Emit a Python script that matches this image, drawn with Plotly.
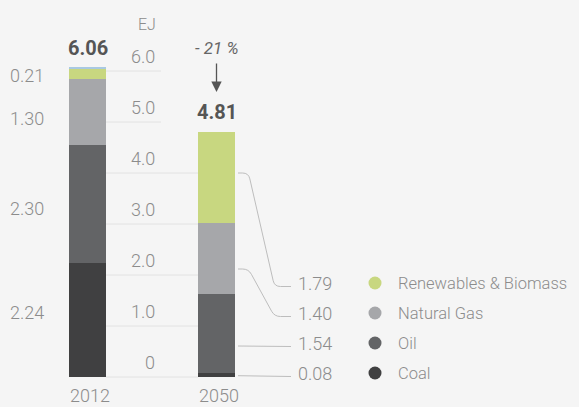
import numpy as np
import plotly.graph_objects as go

# Données (EJ)
years = ["2012", "2050"]
coal = [2.24, 0.08]
oil = [2.30, 1.54]
natural_gas = [1.30, 1.40]
renewables = [0.21, 1.79]
other = [0.01, 0.0]
totals = [6.06, 4.81]
change_label = "- 21 %"
unit_label = "EJ"
y_ticks = [0, 1, 2, 3, 4, 5, 6]
y_tick_labels = ["0", "1.0", "2.0", "3.0", "4.0", "5.0", "6.0"]

series = [
    ("Coal", coal, "#404041"),
    ("Oil", oil, "#636466"),
    ("Natural Gas", natural_gas, "#a6a7aa"),
    ("Renewables & Biomass", renewables, "#c8d780"),
]

# Mise en page (pixels -> unités des axes)
W, H = 579, 407
X0_PX, X_SCALE = 87.5, 129.0
Y0_PX, Y_SCALE = 377.0, 51.0
BAR_W = 37 / X_SCALE

FONT = "Roboto, Liberation Sans, sans-serif"
GREY = "#8c8c8c"
DARK = "#555555"
TXT = 18


def dx(px):
    return (px - X0_PX) / X_SCALE


def dy(py):
    return (Y0_PX - py) / Y_SCALE


xs = [0, 1]
fig = go.Figure()

for name, values, color in series:
    fig.add_trace(go.Bar(x=xs, y=values, name=name, width=BAR_W,
                         marker=dict(color=color, line_width=0),
                         hoverinfo="skip"))
fig.add_trace(go.Bar(x=xs, y=other, width=BAR_W, marker=dict(color="#a9c9e2", line_width=0),
                     hoverinfo="skip"))

shapes = []
annotations = []

# Grille entre les barres
for t, lab in zip(y_ticks, y_tick_labels):
    x_end = dx(198) if t <= 4 else dx(161)
    shapes.append(dict(type="line", xref="x", yref="y", x0=dx(106), x1=x_end, y0=t, y1=t,
                       line=dict(color="#e2e2e2", width=1), layer="below"))
    annotations.append(dict(x=dx(157), y=t, text=lab, xanchor="right", yanchor="middle",
                            yshift=15, showarrow=False,
                            font=dict(family=FONT, size=TXT, color=GREY, weight=300)))
annotations.append(dict(x=dx(158), y=dy(24), text=unit_label, xanchor="right", yanchor="middle",
                        showarrow=False, font=dict(family=FONT, size=16, color=GREY, weight=300)))

# Étiquettes de la barre 2012 (à gauche)
left_label_px = [312, 208, 118, 75]
for (name, values, color), lpx in zip(series, left_label_px):
    annotations.append(dict(x=dx(46), y=dy(lpx), text=f"{values[0]:.2f}", xanchor="right",
                            yanchor="middle", showarrow=False,
                            font=dict(family=FONT, size=TXT, color=GREY, weight=300)))

# Totaux et variation
for x, tot in zip(xs, totals):
    annotations.append(dict(x=x, y=tot, text=f"<b>{tot:.2f}</b>", yanchor="bottom", yshift=6,
                            showarrow=False, font=dict(family=FONT, size=20, color=DARK)))
annotations.append(dict(x=1, y=dy(48), text=f"<i>{change_label}</i>", showarrow=False,
                        font=dict(family=FONT, size=17, color="#666666")))
annotations.append(dict(x=1, y=dy(92), ax=0, ay=-30, text="", showarrow=True,
                        arrowhead=2, arrowsize=1.6, arrowwidth=1.3, arrowcolor=DARK))

# Années
for x, year in zip(xs, years):
    annotations.append(dict(x=x, y=dy(395), text=year, showarrow=False, xshift=2,
                            font=dict(family=FONT, size=TXT, color=GREY, weight=300)))

# Étiquettes 2050 avec traits de rappel et légende
row_px = [373, 343, 313, 283]
leader_from_px = [375.7, 346, 269, 173]
marker_x, marker_y, marker_c = [], [], []


def leader_path(y0, y1):
    p0 = np.array([238.0, y0])
    p3 = np.array([291.0, y1])
    if abs(y0 - y1) < 1:
        pts = [p0, p3]
        return "M " + " L ".join(f"{dx(p[0])},{dy(p[1])}" for p in pts)
    c1 = np.array([248.5, y0])
    c2 = np.array([274.5, y1])
    r = 6.0
    d01 = (c1 - p0) / np.linalg.norm(c1 - p0)
    d12 = (c2 - c1) / np.linalg.norm(c2 - c1)
    d23 = (p3 - c2) / np.linalg.norm(p3 - c2)
    pts = [p0, c1 - r * d01, c1, c1 + r * d12, c2 - r * d12, c2, c2 + r * d23, p3]
    f = [f"{dx(p[0])},{dy(p[1])}" for p in pts]
    return f"M {f[0]} L {f[1]} Q {f[2]} {f[3]} L {f[4]} Q {f[5]} {f[6]} L {f[7]}"


for (name, values, color), rpx, lpx in zip(series, row_px, leader_from_px):
    shapes.append(dict(type="path", xref="x", yref="y", path=leader_path(lpx, rpx + 3.5),
                       line=dict(color="#bdbdbd", width=1)))
    annotations.append(dict(x=dx(296), y=dy(rpx), text=f"{values[1]:.2f}", xanchor="left",
                            yanchor="middle", showarrow=False,
                            font=dict(family=FONT, size=TXT, color=GREY, weight=300)))
    annotations.append(dict(x=dx(396), y=dy(rpx), text=name, xanchor="left",
                            yanchor="middle", showarrow=False,
                            font=dict(family=FONT, size=16.5, color=GREY, weight=300)))
    marker_x.append(dx(375))
    marker_y.append(dy(rpx))
    marker_c.append(color)

fig.add_trace(go.Scatter(x=marker_x, y=marker_y, mode="markers", hoverinfo="skip",
                         marker=dict(size=13, color=marker_c, line_width=0)))

fig.update_layout(
    width=W, height=H,
    margin=dict(l=0, r=0, t=0, b=0),
    barmode="stack", bargap=0,
    showlegend=False,
    paper_bgcolor="#f5f5f5", plot_bgcolor="#f5f5f5",
    xaxis=dict(range=[dx(0), dx(W)], visible=False, fixedrange=True),
    yaxis=dict(range=[dy(H), dy(0)], visible=False, fixedrange=True),
    shapes=shapes, annotations=annotations,
)

fig.write_html("out.html", config={"displayModeBar": False},
               post_script="document.body.style.margin='0';document.body.style.background='#f5f5f5';")
